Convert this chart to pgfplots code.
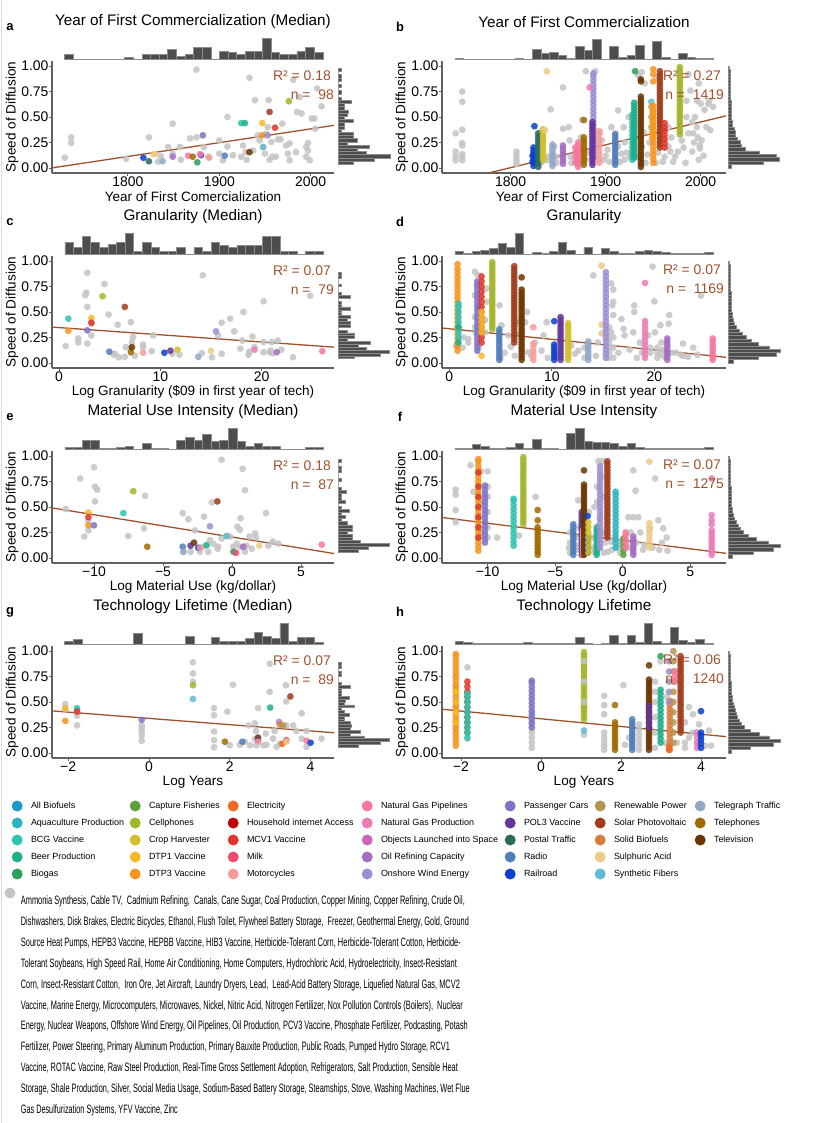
\documentclass[border=0pt]{standalone}
\usepackage{pgfplots}
\pgfplotsset{compat=1.18}
\usepackage{fontspec}
\setmainfont{Liberation Sans}
\usepackage{graphicx}
\definecolor{c01}{HTML}{1E9AC8}\definecolor{c02}{HTML}{2BB5C4}\definecolor{c03}{HTML}{2EC4B0}
\definecolor{c04}{HTML}{1DAF8A}\definecolor{c05}{HTML}{2E9E5A}\definecolor{c06}{HTML}{5BA23A}
\definecolor{c07}{HTML}{A3B52A}\definecolor{c08}{HTML}{D4BE2A}\definecolor{c09}{HTML}{F8B825}
\definecolor{c10}{HTML}{F7941D}\definecolor{c11}{HTML}{EE6A1E}\definecolor{c12}{HTML}{C00000}
\definecolor{c13}{HTML}{E0352B}\definecolor{c14}{HTML}{F04A6E}\definecolor{c15}{HTML}{F99A9A}
\definecolor{c16}{HTML}{F7779E}\definecolor{c17}{HTML}{EC7BB7}\definecolor{c18}{HTML}{CC66BB}
\definecolor{c19}{HTML}{A56CC1}\definecolor{c20}{HTML}{9B8FD3}\definecolor{c21}{HTML}{7B75C4}
\definecolor{c22}{HTML}{66349A}\definecolor{c23}{HTML}{2A6B60}\definecolor{c24}{HTML}{4F7EBB}
\definecolor{c25}{HTML}{0A3FD1}\definecolor{c26}{HTML}{B39350}\definecolor{c27}{HTML}{A03C1C}
\definecolor{c28}{HTML}{DD7B3A}\definecolor{c29}{HTML}{ECCB85}\definecolor{c30}{HTML}{5FBBD4}
\definecolor{c31}{HTML}{94A8C6}\definecolor{c32}{HTML}{A06A00}\definecolor{c33}{HTML}{6A3600}
\definecolor{cg}{HTML}{C4C4C4}\definecolor{fitc}{HTML}{A0522D}
\definecolor{hfill}{HTML}{4D4D4D}\definecolor{hdraw}{HTML}{8C8C8C}
\newcommand\tickf{\fontsize{14}{16}\selectfont}
\newcommand\labf{\fontsize{13.6}{16}\selectfont}
\newcommand\titf{\fontsize{15.3}{18}\selectfont}
\newcommand\legf{\fontsize{9}{10}\selectfont}
\newcommand\grf{\fontsize{12.2}{13}\selectfont}
\newcommand\rf{\fontsize{14}{16}\selectfont}
\newcommand{\pts}[2]{\addplot[only marks, mark=*, mark size=3.4bp, mark options={draw opacity=0, fill=#1, fill opacity=0.85}] coordinates {#2};}
\newcommand{\fit}[1]{\addplot[no marks, color=fitc, line width=1.3bp] coordinates {#1};}
\newcommand{\hx}[1]{\addplot[ybar interval, fill=hfill, draw=hdraw, line width=0.7bp] coordinates {#1};}
\newcommand{\hy}[1]{\addplot[xbar interval, fill=hfill, draw=hdraw, line width=0.7bp] coordinates {#1};}
\newcommand{\legitem}[2]{\addlegendimage{only marks, mark=*, mark size=5.5bp, mark options={draw opacity=0, fill=#1}}\addlegendentry{#2}}
\pgfplotsset{
 mainax/.style={scale only axis, height=112bp, ymin=-0.05, ymax=1.05, anchor=south west,
  axis lines*=left, axis line style={draw=black!62, line width=1.1bp, -},
  tick style={draw=black!62, line width=0.8bp}, tick align=outside, major tick length=2.6bp,
  ytick={0,0.25,0.5,0.75,1}, yticklabels={0.00,0.25,0.50,0.75,1.00},
  yticklabel style={font=\tickf, inner sep=0.8bp},
  xticklabel style={font=\tickf, inner sep=1.2bp},
  every axis y label/.style={at={(axis description cs:-0.141,0.5)}, rotate=90, anchor=center, font=\labf},
  every axis x label/.style={at={(axis description cs:0.5,-0.214)}, anchor=center, font=\labf},
  ylabel={Speed of Diffusion}},
 htop/.style={scale only axis, height=22bp, ymin=0, ymax=22, hide axis, clip=false, anchor=south west},
 hright/.style={scale only axis, width=52bp, height=112bp, xmin=0, xmax=52, ymin=-0.05, ymax=1.05, hide axis, clip=false, anchor=south west},
 legax/.style={hide axis, scale only axis, width=5bp, height=5bp, xmin=0, xmax=1, ymin=0, ymax=1, anchor=north west, legend cell align=left,
  legend style={at={(0,1)}, anchor=north west, draw=none, fill=none, inner sep=0pt, outer sep=0pt, font=\legf, row sep=4bp, column sep=7.3bp, nodes={inner sep=1bp, text height=8bp, text depth=3bp}}}
}
\begin{document}
\begin{tikzpicture}
\useasboundingbox (0,0) rectangle (829bp,-1123bp);
\fill[white] (0,0) rectangle (829bp,-1123bp);
\draw[black!15, line width=0.8bp] (1bp,0) -- (1bp,-1123bp);
% ================= panel a =================
\begin{axis}[mainax, at={(52bp,-173bp)}, width=282bp, xmin=1717, xmax=2025.5, xtick={1800,1900,2000}, xticklabels={1800,1900,2000}, xlabel={Year of First Comercialization}]
\pts{cg}{(1731,0.10)(1738,0.30)(1738,0.245)(1798,0.09)(1823,0.30)(1849,0.435)(1844,0.205)(1857,0.205)(1858,0.08)(1833,0.06)(1836,0.115)(1849,0.14)(1868,0.29)(1875,0.30)(1875,0.965)(1883,0.205)(1888,0.11)(1900,0.27)(1900,0.14)(1904,0.075)(1909,0.50)(1909,0.21)(1915,0.125)(1926,0.22)(1930,0.08)(1933,0.885)(1937,0.17)(1939,0.665)(1942,0.32)(1944,0.27)(1948,0.205)(1950,0.14)(1951,0.335)(1953,0.40)(1954,0.665)(1955,0.08)(1957,0.255)(1962,0.11)(1964,0.28)(1967,0.28)(1969,0.435)(1973,0.22)(1975,0.14)(1981,0.865)(1984,0.155)(1985,0.55)(1988,0.695)(1990,0.535)(1995,0.205)(1995,0.11)(1997,0.245)(1997,0.17)(2001,0.485)(2004,0.485)(2005,0.385)(2007,0.78)(2012,0.605)(1999,0.075)(1977,0.24)(1977,0.075)(1958,0.11)(1924,0.11)(1929,0.155)}
\pts{c25}{(1817,0.10)}\pts{c23}{(1823,0.065)}\pts{c29}{(1828,0.135)(1830,0.135)}\pts{c31}{(1838,0.065)}
\pts{c19}{(1849,0.11)}\pts{c16}{(1866,0.12)}\pts{c32}{(1871,0.11)}\pts{c22}{(1880,0.125)}\pts{c21}{(1882,0.32)}
\pts{c05}{(1876,0.055)}\pts{c17}{(1879,0.135)}\pts{c15}{(1889,0.10)}\pts{c24}{(1906,0.12)}\pts{c33}{(1933,0.155)}
\pts{c03}{(1924,0.44)}\pts{c04}{(1928,0.44)}\pts{c09}{(1947,0.44)}\pts{c10}{(1947,0.32)}\pts{c30}{(1948,0.205)}
\pts{c20}{(1953,0.32)}\pts{c27}{(1955,0.55)}\pts{c13}{(1961,0.395)}\pts{c07}{(1976,0.655)}
\fit{(1717,0.0)(2025.5,0.418)}
\end{axis}
\begin{axis}[htop, at={(52bp,-59.5bp)}, width=282bp, xmin=1717, xmax=2025.5]
\hx{(1730.7,5.3)(1740.1,0)(1749.5,0)(1759.0,0)(1768.4,0)(1777.8,0)(1787.2,0)(1796.6,2)(1806.1,0)(1815.5,5.3)(1824.9,5.3)(1834.3,5.3)(1843.7,10)(1853.2,3.3)(1862.6,5.3)(1872.0,12.3)(1881.4,12.3)(1890.8,0)(1900.3,7.7)(1909.7,6.7)(1919.1,5)(1928.5,8.3)(1937.9,8.3)(1947.4,20.7)(1956.8,6.7)(1966.2,5)(1975.6,5)(1985.0,8.3)(1994.5,12.3)(2003.9,6.7)(2013.3,0)}
\end{axis}
\begin{axis}[hright, at={(338bp,-173bp)}]
\hy{(15,0.036)(36,0.0674)(52,0.0988)(28,0.1302)(19,0.1616)(31,0.193)(9,0.2244)(19,0.2558)(15,0.2872)(15,0.3186)(3,0.35)(6,0.3814)(6,0.4128)(15,0.4442)(6,0.4756)(9,0.507)(10,0.5384)(6,0.5698)(6,0.6012)(13,0.6326)(3,0.664)(0,0.6954)(3,0.7268)(0,0.7582)(3,0.7896)(0,0.821)(3,0.8524)(3,0.8838)(0,0.9152)(3,0.9466)(0,0.978)}
\end{axis}
% ================= panel b =================
\begin{axis}[mainax, at={(442bp,-173bp)}, width=284bp, xmin=1727.7, xmax=2026.6, xtick={1800,1900,2000}, xticklabels={1800,1900,2000}, xlabel={Year of First Comercialization}]
\pts{cg}{(1742,0.34)(1742,0.16)(1742,0.11)(1742,0.075)(1749,0.75)(1749,0.65)(1749,0.375)(1749,0.245)(1749,0.22)(1749,0.135)(1749,0.11)(1749,0.075)(1806,0.16)(1806,0.13)(1806,0.10)(1806,0.07)(1806,0.04)(1830,0.30)(1832,0.05)(1832,0.10)(1832,0.15)(1832,0.20)(1832,0.25)(1838,0.075)(1840,0.11)(1842,0.575)(1846,0.21)(1848,0.11)(1848,0.05)(1855,0.79)(1855,0.385)(1861,0.40)(1862,0.27)(1863,0.11)(1864,0.05)(1875,0.47)(1874,0.30)(1879,0.95)(1879,0.08)(1882,0.15)(1889,0.95)(1894,0.35)(1896,0.27)(1898,0.08)(1900,0.12)(1902,0.18)(1906,0.40)(1910,0.34)(1913,0.565)(1913,0.21)(1917,0.14)(1919,0.40)(1920,0.25)(1920,0.08)(1924,0.50)(1926,0.11)(1934,0.91)(1938,0.94)(1941,0.83)(1938,0.21)(1934,0.11)(1940,0.35)(1942,0.05)(1954,0.89)(1966,0.40)(1966,0.21)(1968,0.16)(1962,0.11)(1969,0.30)(1955,0.15)(1953,0.05)(1973,0.11)(1976,0.16)(1980,0.27)(1985,0.66)(1987,0.92)(1985,0.50)(1987,0.34)(1991,0.16)(1989,0.76)(1991,0.45)(1984,0.05)(1996,0.66)(1998,0.83)(1999,0.22)(1999,0.19)(2000,0.63)(2008,0.63)(2004,0.57)(2006,0.40)(2009,0.66)(2013,0.60)(1998,0.08)(1997,0.30)(1994,0.50)(1992,0.34)(2001,0.27)(1996,0.40)(2003,0.12)(2010,0.37)(1993,0.25)(1982,0.20)(1904,0.06)(1915,0.06)(1922,0.15)(1944,0.13)(1946,0.25)(1960,0.06)(1971,0.06)}
\pts{c25}{(1824,0.02)(1824,0.05)(1824,0.08)(1824,0.11)(1824,0.14)(1824,0.17)(1824,0.20)(1823,0.06)(1823,0.12)(1825,0.41)}
\pts{c23}{(1829,0.01)(1829,0.04)(1829,0.07)(1829,0.10)(1829,0.13)(1829,0.16)(1829,0.19)(1829,0.22)(1829,0.25)(1829,0.28)(1829,0.31)(1829,0.34)}
\pts{c08}{(1834,0.08)(1834,0.11)(1834,0.14)(1834,0.17)(1834,0.20)(1834,0.23)(1834,0.26)(1834,0.29)(1834,0.32)(1834,0.35)(1834,0.38)}
\pts{c29}{(1838,0.95)(1836,0.37)}
\pts{c31}{(1844,0.02)(1844,0.05)(1844,0.08)(1844,0.11)(1844,0.14)(1844,0.17)(1844,0.20)(1844,0.23)}
\pts{c19}{(1855,0.04)(1855,0.07)(1855,0.10)(1855,0.13)(1855,0.16)(1855,0.19)(1855,0.22)}
\pts{c16}{(1871,0.01)(1871,0.04)(1871,0.07)(1871,0.10)(1871,0.13)(1871,0.16)(1871,0.19)(1871,0.22)(1871,0.25)(1868,0.05)(1868,0.10)(1868,0.15)(1868,0.20)}
\pts{c32}{(1877,0.03)(1877,0.06)(1877,0.09)(1877,0.12)(1877,0.15)(1877,0.18)(1877,0.21)(1877,0.24)(1877,0.27)(1877,0.30)(1877,0.47)}
\pts{c15}{(1893,0.05)(1893,0.09)(1893,0.13)(1893,0.17)(1893,0.21)(1893,0.25)(1893,0.29)(1893,0.33)(1893,0.36)}
\pts{c20}{(1887,0.10)(1887,0.14)(1887,0.18)(1887,0.22)(1887,0.26)(1887,0.30)(1887,0.34)(1887,0.38)(1887,0.42)(1887,0.46)(1887,0.50)(1887,0.54)(1887,0.58)(1887,0.62)(1887,0.66)(1887,0.70)(1887,0.74)(1887,0.78)(1887,0.82)(1887,0.86)(1887,0.90)(1887,0.93)}
\pts{c22}{(1886,0.03)(1886,0.06)(1886,0.09)(1886,0.12)(1886,0.15)(1886,0.18)(1886,0.21)(1886,0.24)(1886,0.27)(1886,0.30)(1886,0.33)(1886,0.36)(1886,0.39)(1886,0.42)(1886,0.45)}
\pts{c17}{(1883,0.79)}
\pts{c24}{(1910,0.03)(1910,0.06)(1910,0.09)(1910,0.12)(1910,0.15)(1910,0.18)(1910,0.21)(1910,0.24)(1910,0.27)(1910,0.30)(1910,0.33)}
\pts{c03}{(1928,0.08)(1928,0.12)(1928,0.16)(1928,0.20)(1928,0.24)(1928,0.28)(1928,0.32)(1928,0.36)(1928,0.40)(1928,0.44)(1928,0.48)(1928,0.52)}
\pts{c04}{(1930,0.10)(1930,0.13)(1930,0.16)(1930,0.19)(1930,0.22)(1930,0.25)(1930,0.28)(1930,0.31)(1930,0.34)(1930,0.37)(1930,0.40)(1930,0.43)(1930,0.46)(1930,0.49)(1930,0.52)(1930,0.55)(1930,0.58)(1930,0.61)(1930,0.64)}
\pts{c05}{(1931,0.95)}
\pts{c33}{(1937,0.01)(1937,0.04)(1937,0.07)(1937,0.10)(1937,0.13)(1937,0.16)(1937,0.19)(1937,0.22)(1937,0.25)(1937,0.28)(1937,0.31)(1937,0.34)(1937,0.37)(1937,0.40)(1937,0.43)(1937,0.46)(1937,0.49)(1937,0.52)(1937,0.55)(1937,0.58)(1937,0.61)(1937,0.64)(1937,0.67)(1937,0.70)(1937,0.85)(1937,0.87)}
\pts{c30}{(1948,0.40)(1948,0.50)(1948,0.60)(1948,0.65)}
\pts{c09}{(1949,0.30)(1949,0.35)(1949,0.40)(1949,0.45)(1949,0.50)(1949,0.55)(1949,0.60)}
\pts{c10}{(1950,0.05)(1950,0.09)(1950,0.13)(1950,0.17)(1950,0.21)(1950,0.25)(1950,0.29)(1950,0.33)(1950,0.37)(1950,0.41)(1950,0.45)(1950,0.49)(1950,0.53)(1950,0.57)(1950,0.61)(1950,0.85)(1950,0.92)(1950,0.97)}
\pts{c27}{(1957,0.20)(1957,0.23)(1957,0.26)(1957,0.29)(1957,0.32)(1957,0.35)(1957,0.38)(1957,0.41)(1957,0.44)(1957,0.47)(1957,0.50)(1957,0.53)(1957,0.56)(1957,0.59)(1957,0.62)(1957,0.65)(1957,0.68)(1957,0.71)(1957,0.74)(1957,0.77)(1957,0.80)(1957,0.83)(1957,0.86)(1957,0.89)(1957,0.92)(1957,0.95)}
\pts{c13}{(1962,0.20)(1962,0.24)(1962,0.28)(1962,0.32)(1962,0.36)(1962,0.40)(1962,0.44)}
\pts{c07}{(1978,0.33)(1978,0.36)(1978,0.39)(1978,0.42)(1978,0.45)(1978,0.48)(1978,0.51)(1978,0.54)(1978,0.57)(1978,0.60)(1978,0.63)(1978,0.66)(1978,0.69)(1978,0.72)(1978,0.75)(1978,0.78)(1978,0.81)(1978,0.84)(1978,0.87)(1978,0.90)(1978,0.93)(1978,0.96)(1978,0.99)}
\fit{(1776.5,-0.05)(2026.6,0.511)}
\end{axis}
\begin{axis}[htop, at={(442bp,-59.5bp)}, width=284bp, xmin=1727.7, xmax=2026.6]
\hx{(1741.4,1)(1750.45,0)(1759.5,0)(1768.55,0)(1777.6,0)(1786.65,0)(1795.7,0)(1804.75,1)(1813.8,0)(1822.85,10.3)(1831.9,6)(1840.95,7)(1850.0,3.7)(1859.05,1)(1868.1,13.3)(1877.15,9.3)(1886.2,20.3)(1895.25,0)(1904.3,12.7)(1913.35,2)(1922.4,4.3)(1931.45,13.7)(1940.5,0)(1949.55,18)(1958.6,2)(1967.65,0)(1976.7,6)(1985.75,2)(1994.8,1)(2003.85,0.7)(2012.9,0)}
\end{axis}
\begin{axis}[hright, at={(728bp,-173bp)}]
\hy{(3,0)(35,0.0333)(51,0.0667)(48,0.1)(31,0.1333)(17,0.1667)(13,0.2)(12,0.2333)(9,0.2667)(7,0.3)(7,0.3333)(6,0.3667)(4,0.4)(4,0.4333)(3,0.4667)(3,0.5)(3,0.5333)(3,0.5667)(3,0.6)(3,0.6333)(2,0.6667)(2,0.7)(2,0.7333)(2,0.7667)(2,0.8)(2,0.8333)(2,0.8667)(2,0.9)(2,0.9333)(1,0.9667)(0,1.0)}
\end{axis}
% ================= panel c =================
\begin{axis}[mainax, at={(52bp,-368bp)}, width=282bp, xmin=-0.69, xmax=27.15, xtick={0,10,20}, xticklabels={0,10,20}, xlabel={Log Granularity (\$09 in first year of tech)}]
\pts{cg}{(0.66,0.165)(1.9,0.20)(1.9,0.24)(2.8,0.19)(2.8,0.885)(2.6,0.665)(2.7,0.69)(2.8,0.55)(3.2,0.27)(3.2,0.385)(4.5,0.775)(4.9,0.475)(5.4,0.08)(5.9,0.055)(5.8,0.375)(6.5,0.06)(6.6,0.155)(7.1,0.40)(7.2,0.205)(7.3,0.255)(7.5,0.07)(8.3,0.18)(8.3,0.155)(9.15,0.115)(9.3,0.27)(11.2,0.09)(11.9,0.08)(14.1,0.095)(14.2,0.86)(15.1,0.055)(15.7,0.27)(16.06,0.09)(16.06,0.395)(16.9,0.435)(17.3,0.31)(18.1,0.22)(18.2,0.50)(17.9,0.14)(18.7,0.08)(18.8,0.11)(19.1,0.26)(19.3,0.155)(20.2,0.205)(20.2,0.605)(20.2,0.105)(20.8,0.105)(20.9,0.12)(21.0,0.205)(21.1,0.095)(21.6,0.22)(21.96,0.13)(23.1,0.055)(24.8,0.66)(7.0,0.14)(5.5,0.09)}
\pts{c03}{(0.92,0.435)}\pts{c10}{(0.92,0.315)}\pts{c09}{(3.2,0.44)}\pts{c13}{(3.2,0.395)}\pts{c21}{(2.8,0.32)}
\pts{c07}{(4.3,0.655)}\pts{c27}{(6.5,0.55)}\pts{c32}{(7.1,0.105)}\pts{c33}{(7.2,0.155)}\pts{c24}{(4.97,0.11)}
\pts{c15}{(8.3,0.10)}\pts{c25}{(10.4,0.10)}\pts{c22}{(11.0,0.12)}\pts{c08}{(11.7,0.13)}\pts{c29}{(15.0,0.12)}
\pts{c31}{(13.75,0.06)}\pts{c20}{(15.5,0.31)}\pts{c17}{(19.3,0.13)}\pts{c19}{(21.5,0.105)}\pts{c16}{(26.0,0.115)}
\fit{(-0.69,0.352)(27.15,0.155)}
\end{axis}
\begin{axis}[htop, at={(52bp,-254.5bp)}, width=282bp, xmin=-0.69, xmax=27.15]
\hx{(0.59,12.3)(1.439,6.7)(2.288,18)(3.137,12.3)(3.986,6.7)(4.835,10)(5.684,12.3)(6.533,21)(7.382,3.3)(8.231,12.3)(9.08,6.7)(9.929,3.3)(10.778,3.3)(11.627,6.7)(12.476,0)(13.325,6.7)(14.174,3.3)(15.023,12.3)(15.872,9.3)(16.721,6.7)(17.57,9.3)(18.419,9.3)(19.268,9.3)(20.117,18)(20.966,18)(21.815,3.3)(22.664,3.3)(23.513,0)(24.362,3.3)(25.211,3.3)(26.06,0)}
\end{axis}
\begin{axis}[hright, at={(338bp,-368bp)}]
\hy{(16,0.04)(42,0.0683)(51,0.0966)(28,0.1249)(20,0.1532)(32,0.1815)(9,0.2098)(16,0.2381)(16,0.2664)(9,0.2947)(0,0.323)(12,0.3513)(12,0.3796)(9,0.4079)(12,0.4362)(3,0.4645)(3,0.4928)(12,0.5211)(3,0.5494)(3,0.5777)(0,0.606)(12,0.6343)(3,0.6626)(0,0.6909)(0,0.7192)(3,0.7475)(0,0.7758)(0,0.8041)(3,0.8324)(3,0.8607)(0,0.889)}
\end{axis}
% ================= panel d =================
\begin{axis}[mainax, at={(442bp,-368bp)}, width=284bp, xmin=-0.71, xmax=27.0, xtick={0,10,20}, xticklabels={0,10,20}, xlabel={Log Granularity (\$09 in first year of tech)}]
\pts{cg}{(0.65,0.17)(1.85,0.235)(1.85,0.20)(2.5,0.895)(2.7,0.765)(2.5,0.665)(2.8,0.86)(3.64,0.73)(3.64,0.6)(4.9,0.565)(5.1,0.37)(5.76,0.27)(6.4,0.07)(6.7,0.4)(7.7,0.105)(8.0,0.07)(9.0,0.12)(9.2,0.27)(8.36,0.2)(9.5,0.40)(11.9,0.17)(12.26,0.09)(14.05,0.86)(15.8,0.78)(15.9,0.565)(16,0.47)(15.8,0.30)(16.8,0.43)(17,0.335)(17.1,0.27)(17.95,0.30)(18.05,0.565)(18.05,0.5)(18.6,0.2)(18.8,0.1)(19.4,0.27)(19.84,0.945)(20,0.605)(20.07,0.30)(20.6,0.37)(20.7,0.2)(20.9,0.13)(21.4,0.385)(21.46,0.47)(21.7,0.1)(22.8,0.19)(22.8,0.07)(24.55,0.66)(22.1,0.1)(22.6,0.08)(23.3,0.06)(15.6,0.05)(15.6,0.1)(15.6,0.15)(15.6,0.2)(15.6,0.25)(15.6,0.35)(16.0,0.05)(16.0,0.15)(16.0,0.25)(16.0,0.6)(16.0,0.72)(20.3,0.05)(20.3,0.1)(20.3,0.15)(21.0,0.06)(21.0,0.12)(20.6,0.08)(19.6,0.1)(19.6,0.15)(13.2,0.05)(13.2,0.15)(14.3,0.07)(14.5,0.2)(12.6,0.12)(10.5,0.07)(9.6,0.05)(2.5,0.35)(2.5,0.45)(2.8,0.55)(2.6,0.3)(1.3,0.15)(1.4,0.25)(5.0,0.05)(5.4,0.1)(6.0,0.16)(6.9,0.28)(7.4,0.4)(7.6,0.5)(3.5,0.3)(3.5,0.42)(2.9,0.15)(23.8,0.15)(24.2,0.08)(17.6,0.13)(18.3,0.05)(16.5,0.1)}
\pts{c10}{(0.81,0.12)(0.81,0.16)(0.81,0.20)(0.81,0.24)(0.81,0.28)(0.81,0.32)(0.81,0.36)(0.81,0.40)(0.81,0.44)(0.81,0.48)(0.81,0.52)(0.81,0.56)(0.81,0.60)(0.81,0.64)(0.81,0.68)(0.81,0.72)(0.81,0.76)(0.81,0.80)(0.81,0.84)(0.81,0.88)(0.81,0.92)(0.81,0.97)}
\pts{c03}{(0.9,0.25)(0.9,0.30)(0.9,0.35)(0.9,0.40)(0.9,0.45)(0.9,0.50)(0.9,0.55)(0.9,0.58)}
\pts{c04}{(0.9,0.20)(0.9,0.35)}
\pts{c21}{(2.73,0.12)(2.73,0.16)(2.73,0.20)(2.73,0.24)(2.73,0.28)(2.73,0.32)(2.73,0.36)(2.73,0.40)(2.73,0.44)(2.73,0.48)(2.73,0.52)(2.73,0.56)(2.73,0.60)(2.73,0.64)(2.73,0.68)(2.73,0.72)(2.73,0.76)(2.73,0.80)}
\pts{c13}{(3.15,0.20)(3.15,0.25)(3.15,0.30)(3.15,0.35)(3.15,0.40)(3.15,0.45)(3.15,0.50)(3.15,0.55)(3.15,0.60)(3.15,0.65)(3.15,0.70)(3.15,0.75)(3.15,0.80)(3.15,0.85)}
\pts{c09}{(3.15,0.07)(3.15,0.30)(3.15,0.35)(3.15,0.40)(3.15,0.45)(3.15,0.50)}
\pts{c07}{(4.2,0.33)(4.2,0.36)(4.2,0.39)(4.2,0.42)(4.2,0.45)(4.2,0.48)(4.2,0.51)(4.2,0.54)(4.2,0.57)(4.2,0.60)(4.2,0.63)(4.2,0.66)(4.2,0.69)(4.2,0.72)(4.2,0.75)(4.2,0.78)(4.2,0.81)(4.2,0.84)(4.2,0.87)(4.2,0.90)(4.2,0.93)(4.2,0.96)(4.2,0.99)}
\pts{c24}{(4.88,0.03)(4.88,0.06)(4.88,0.09)(4.88,0.12)(4.88,0.15)(4.88,0.18)(4.88,0.21)(4.88,0.24)(4.88,0.27)(4.88,0.30)(4.88,0.33)}
\pts{c27}{(6.34,0.20)(6.34,0.23)(6.34,0.26)(6.34,0.29)(6.34,0.32)(6.34,0.35)(6.34,0.38)(6.34,0.41)(6.34,0.44)(6.34,0.47)(6.34,0.50)(6.34,0.53)(6.34,0.56)(6.34,0.59)(6.34,0.62)(6.34,0.65)(6.34,0.68)(6.34,0.71)(6.34,0.74)(6.34,0.77)(6.34,0.80)(6.34,0.83)(6.34,0.86)(6.34,0.89)(6.34,0.92)(6.34,0.95)}
\pts{c33}{(7.06,0.03)(7.06,0.06)(7.06,0.09)(7.06,0.12)(7.06,0.15)(7.06,0.18)(7.06,0.21)(7.06,0.24)(7.06,0.27)(7.06,0.30)(7.06,0.33)(7.06,0.36)(7.06,0.39)(7.06,0.42)(7.06,0.45)(7.06,0.48)(7.06,0.51)(7.06,0.54)(7.06,0.57)(7.06,0.60)(7.06,0.63)(7.06,0.66)(7.06,0.69)(7.06,0.72)(7.06,0.84)}
\pts{c15}{(8.2,0.03)(8.2,0.07)(8.2,0.11)(8.2,0.15)(8.2,0.19)(8.2,0.35)}
\pts{c25}{(10.24,0.03)(10.24,0.06)(10.24,0.09)(10.24,0.12)(10.24,0.15)(10.24,0.18)(10.24,0.41)}
\pts{c22}{(10.86,0.03)(10.86,0.06)(10.86,0.09)(10.86,0.12)(10.86,0.15)(10.86,0.18)(10.86,0.21)(10.86,0.24)(10.86,0.27)(10.86,0.30)(10.86,0.33)(10.86,0.36)(10.86,0.39)(10.86,0.42)(10.86,0.45)}
\pts{c08}{(11.6,0.03)(11.6,0.06)(11.6,0.09)(11.6,0.12)(11.6,0.15)(11.6,0.18)(11.6,0.21)(11.6,0.24)(11.6,0.27)(11.6,0.30)(11.6,0.33)(11.6,0.36)(11.6,0.39)}
\pts{c31}{(13.56,0.03)(13.56,0.06)(13.56,0.09)(13.56,0.12)(13.56,0.15)(13.56,0.18)(13.56,0.21)}
\pts{c29}{(14.86,0.955)(14.86,0.375)(14.86,0.29)}
\pts{c20}{(15.28,0.05)(15.28,0.09)(15.28,0.13)(15.28,0.17)(15.28,0.21)(15.28,0.25)(15.28,0.29)(15.28,0.33)(15.28,0.37)(15.28,0.41)(15.28,0.45)(15.28,0.49)(15.28,0.53)(15.28,0.57)(15.28,0.61)(15.28,0.65)(15.28,0.69)(15.28,0.73)(15.28,0.77)(15.28,0.81)(15.28,0.85)(15.28,0.89)}
\pts{c17}{(19.1,0.05)(19.1,0.09)(19.1,0.13)(19.1,0.17)(19.1,0.21)(19.1,0.25)(19.1,0.29)(19.1,0.33)(19.1,0.37)(19.1,0.41)(19.1,0.785)}
\pts{c19}{(21.27,0.03)(21.27,0.06)(21.27,0.09)(21.27,0.12)(21.27,0.15)(21.27,0.18)(21.27,0.21)(21.27,0.24)}
\pts{c16}{(25.7,0.03)(25.7,0.06)(25.7,0.09)(25.7,0.12)(25.7,0.15)(25.7,0.18)(25.7,0.21)(25.7,0.24)}
\fit{(-0.71,0.343)(27.0,0.055)}
\end{axis}
\begin{axis}[htop, at={(442bp,-254.5bp)}, width=284bp, xmin=-0.71, xmax=27.0]
\hx{(0.55,3.3)(1.389,0.7)(2.228,3.3)(3.067,4)(3.906,6)(4.745,11)(5.584,6.7)(6.423,21)(7.262,0)(8.101,2.3)(8.94,0.7)(9.779,3.3)(10.618,11.7)(11.457,4)(12.296,0)(13.135,7.3)(13.974,0)(14.813,6)(15.652,2.7)(16.491,0.7)(17.33,0.7)(18.169,2.7)(19.008,4)(19.847,3.3)(20.686,2.3)(21.525,1.3)(22.364,0.7)(23.203,0.7)(24.042,0.7)(24.881,1.7)(25.72,0)}
\end{axis}
\begin{axis}[hright, at={(728bp,-368bp)}]
\hy{(5,0)(30,0.0333)(48,0.0667)(52,0.1)(41,0.1333)(30,0.1667)(23,0.2)(18,0.2333)(14,0.2667)(11,0.3)(8,0.3333)(6,0.3667)(5,0.4)(4,0.4333)(4,0.4667)(3,0.5)(3,0.5333)(3,0.5667)(3,0.6)(3,0.6333)(3,0.6667)(2,0.7)(2,0.7333)(2,0.7667)(2,0.8)(2,0.8333)(2,0.8667)(2,0.9)(2,0.9333)(1,0.9667)(0,1.0)}
\end{axis}
% ================= panel e =================
\begin{axis}[mainax, at={(52bp,-563bp)}, width=282bp, xmin=-13.04, xmax=7.39, xtick={-10,-5,0,5}, xticklabels={−10,−5,0,5}, xlabel={Log Material Use (kg/dollar)}]
\pts{cg}{(-12.05,0.48)(-11.0,0.78)(-10.7,0.21)(-10.0,0.89)(-10.4,0.27)(-10.4,0.36)(-9.93,0.70)(-9.76,0.67)(-9.93,0.555)(-7.51,0.215)(-6.3,0.61)(-6.38,0.29)(-3.57,0.44)(-3.16,0.38)(-3.5,0.06)(-2.68,0.27)(-3.0,0.06)(-2.32,0.06)(-2.03,0.405)(-1.6,0.175)(-1.47,0.545)(-1.35,0.14)(-1.0,0.11)(-0.75,0.965)(-0.75,0.19)(-0.39,0.215)(-0.14,0.21)(0.1,0.11)(0.39,0.305)(0.58,0.275)(0.63,0.39)(0.77,0.875)(0.94,0.665)(0.94,0.06)(1.06,0.12)(1.26,0.21)(1.43,0.09)(1.67,0.24)(1.74,0.2)(2.46,0.44)(2.63,0.12)(2.95,0.16)(3.36,0.14)(-1.72,0.06)(-2.08,0.11)(0.34,0.14)(0.58,0.11)(-1.04,0.09)}
\pts{c09}{(-10.4,0.445)}\pts{c13}{(-10.4,0.40)}\pts{c10}{(-10.4,0.32)}\pts{c21}{(-10.0,0.32)}\pts{c07}{(-7.15,0.655)}
\pts{c03}{(-7.87,0.44)}\pts{c32}{(-6.14,0.11)}\pts{c24}{(-3.57,0.11)}\pts{c31}{(-3.53,0.06)}\pts{c22}{(-3.0,0.12)}
\pts{c33}{(-2.75,0.15)}\pts{c25}{(-2.44,0.10)}\pts{c15}{(-2.32,0.10)}\pts{c20}{(-1.6,0.31)}\pts{c04}{(-1.84,0.125)}
\pts{c27}{(-1.06,0.555)}\pts{c05}{(0.1,0.06)}\pts{c14}{(0.29,0.05)}\pts{c29}{(1.98,0.12)}\pts{c19}{(0.82,0.11)}
\pts{c30}{(-0.39,0.215)}\pts{c16}{(6.5,0.13)}
\fit{(-13.04,0.491)(7.39,0.043)}
\end{axis}
\begin{axis}[htop, at={(52bp,-449.5bp)}, width=282bp, xmin=-13.04, xmax=7.39]
\hx{(-12.1,2.3)(-11.477,2.3)(-10.854,9.3)(-10.231,9.3)(-9.608,0.7)(-8.985,0.7)(-8.362,2.3)(-7.739,3.3)(-7.116,0)(-6.493,5.7)(-5.87,0.7)(-5.247,0.7)(-4.624,0)(-4.001,9.3)(-3.378,11.7)(-2.755,9.3)(-2.132,15.3)(-1.509,8.3)(-0.886,9.3)(-0.263,21)(0.36,8.3)(0.983,3.3)(1.606,5.7)(2.229,3.3)(2.852,3.3)(3.475,0)(4.098,0)(4.721,0)(5.344,2.3)(5.967,2.3)(6.59,0)}
\end{axis}
\begin{axis}[hright, at={(338bp,-563bp)}]
\hy{(20,0.05)(30,0.0805)(51,0.111)(22,0.1415)(14,0.172)(14,0.2025)(9,0.233)(14,0.2635)(14,0.294)(9,0.3245)(3,0.355)(7,0.3855)(3,0.416)(11,0.4465)(3,0.477)(0,0.5075)(7,0.538)(3,0.5685)(3,0.599)(8,0.6295)(3,0.66)(0,0.6905)(0,0.721)(3,0.7515)(0,0.782)(0,0.8125)(3,0.843)(3,0.8735)(0,0.904)(3,0.9345)(0,0.965)}
\end{axis}
% ================= panel f =================
\begin{axis}[mainax, at={(442bp,-563bp)}, width=284bp, xmin=-13.38, xmax=7.64, xtick={-10,-5,0,5}, xticklabels={−10,−5,0,5}, xlabel={Log Material Use (kg/dollar)}]
\pts{cg}{(-12.37,0.35)(-12.37,0.47)(-12.37,0.62)(-12.37,0.67)(-11.26,0.91)(-11.06,0.65)(-10.0,0.2)(-10.0,0.3)(-10.0,0.45)(-10.0,0.6)(-10.0,0.7)(-10.0,0.85)(-10.5,0.25)(-10.5,0.55)(-10.5,0.85)(-9.3,0.2)(-7.68,0.22)(-6.45,0.6)(-3.9,0.05)(-3.9,0.15)(-3.9,0.25)(-3.5,0.08)(-3.5,0.2)(-3.3,0.565)(-3.3,0.12)(-3.2,0.3)(-1.8,0.95)(-1.5,0.95)(-1.6,0.8)(-1.9,0.7)(-1.4,0.6)(-1.9,0.55)(-1.7,0.4)(-1.5,0.25)(-1.3,0.15)(-1.8,0.1)(-1.4,0.05)(-1.1,0.06)(-0.8,0.08)(-0.9,0.16)(-0.4,0.1)(-0.6,0.2)(0.41,0.40)(0.78,0.40)(1.15,0.40)(0.78,0.86)(0.95,0.66)(2.39,0.78)(2.0,0.29)(2.63,0.37)(3.0,0.29)(3.25,0.2)(1.5,0.08)(1.0,0.15)(1.3,0.25)(2.2,0.1)(2.7,0.08)(0.5,0.1)(1.6,0.13)(0.6,0.25)(2.9,0.15)(3.3,0.07)(-2.2,0.1)(-2.3,0.2)(-2.1,0.06)(-4.0,0.1)(-0.2,0.05)(-0.2,0.15)(-2.5,0.45)(-2.1,0.5)}
\pts{c10}{(-10.69,0.07)(-10.69,0.11)(-10.69,0.15)(-10.69,0.19)(-10.69,0.23)(-10.69,0.27)(-10.69,0.31)(-10.69,0.35)(-10.69,0.39)(-10.69,0.43)(-10.69,0.47)(-10.69,0.51)(-10.69,0.55)(-10.69,0.59)(-10.69,0.63)(-10.69,0.67)(-10.69,0.71)(-10.69,0.75)(-10.69,0.79)(-10.69,0.83)(-10.69,0.87)(-10.69,0.91)(-10.69,0.95)(-10.69,0.97)}
\pts{c13}{(-10.69,0.2)(-10.69,0.3)(-10.69,0.4)(-10.69,0.5)(-10.69,0.6)(-10.69,0.7)(-10.69,0.84)}
\pts{c21}{(-10.2,0.15)(-10.2,0.19)(-10.2,0.23)(-10.2,0.27)(-10.2,0.31)(-10.2,0.35)(-10.2,0.39)(-10.2,0.43)(-10.2,0.47)(-10.2,0.51)(-10.2,0.55)(-10.2,0.59)(-10.2,0.63)(-10.2,0.67)(-10.2,0.71)}
\pts{c03}{(-8.08,0.12)(-8.08,0.16)(-8.08,0.20)(-8.08,0.24)(-8.08,0.28)(-8.08,0.32)(-8.08,0.36)(-8.08,0.40)(-8.08,0.44)(-8.08,0.48)(-8.08,0.52)(-8.08,0.56)(-8.08,0.58)}
\pts{c07}{(-7.36,0.33)(-7.36,0.36)(-7.36,0.39)(-7.36,0.42)(-7.36,0.45)(-7.36,0.48)(-7.36,0.51)(-7.36,0.54)(-7.36,0.57)(-7.36,0.60)(-7.36,0.63)(-7.36,0.66)(-7.36,0.69)(-7.36,0.72)(-7.36,0.75)(-7.36,0.78)(-7.36,0.81)(-7.36,0.84)(-7.36,0.87)(-7.36,0.90)(-7.36,0.93)(-7.36,0.96)(-7.36,0.99)}
\pts{c32}{(-6.3,0.03)(-6.3,0.06)(-6.3,0.09)(-6.3,0.12)(-6.3,0.15)(-6.3,0.18)(-6.3,0.21)(-6.3,0.24)(-6.3,0.27)(-6.3,0.30)(-6.3,0.37)(-6.3,0.47)}
\pts{c24}{(-3.66,0.03)(-3.66,0.06)(-3.66,0.09)(-3.66,0.12)(-3.66,0.15)(-3.66,0.18)(-3.66,0.21)(-3.66,0.24)(-3.66,0.27)(-3.66,0.30)(-3.66,0.33)}
\pts{c22}{(-3.04,0.03)(-3.04,0.06)(-3.04,0.09)(-3.04,0.12)(-3.04,0.15)(-3.04,0.18)(-3.04,0.21)(-3.04,0.24)(-3.04,0.27)(-3.04,0.30)(-3.04,0.33)(-3.04,0.36)(-3.04,0.39)(-3.04,0.42)(-3.04,0.45)}
\pts{c15}{(-2.95,0.03)(-2.95,0.06)(-2.95,0.09)(-2.95,0.12)(-2.95,0.15)(-2.95,0.18)(-2.95,0.21)(-2.95,0.24)(-2.95,0.27)}
\pts{c33}{(-2.87,0.03)(-2.87,0.06)(-2.87,0.09)(-2.87,0.12)(-2.87,0.15)(-2.87,0.18)(-2.87,0.21)(-2.87,0.24)(-2.87,0.27)(-2.87,0.30)(-2.87,0.33)(-2.87,0.36)(-2.87,0.39)(-2.87,0.42)(-2.87,0.45)(-2.87,0.48)(-2.87,0.51)(-2.87,0.54)(-2.87,0.57)(-2.87,0.60)(-2.87,0.63)(-2.87,0.66)(-2.87,0.69)(-2.87,0.72)(-2.87,0.86)}
\pts{c25}{(-2.6,0.05)(-2.6,0.09)(-2.6,0.13)(-2.6,0.17)(-2.6,0.20)(-2.6,0.41)}
\pts{c08}{(-2.55,0.05)(-2.55,0.10)(-2.55,0.15)(-2.55,0.20)(-2.55,0.25)(-2.55,0.30)(-2.55,0.35)}
\pts{c04}{(-1.93,0.03)(-1.93,0.06)(-1.93,0.09)(-1.93,0.12)(-1.93,0.15)(-1.93,0.18)(-1.93,0.21)(-1.93,0.24)(-1.93,0.27)(-1.93,0.30)}
\pts{c20}{(-1.68,0.10)(-1.68,0.14)(-1.68,0.18)(-1.68,0.22)(-1.68,0.26)(-1.68,0.30)(-1.68,0.34)(-1.68,0.38)(-1.68,0.42)(-1.68,0.46)(-1.68,0.50)(-1.68,0.54)(-1.68,0.58)(-1.68,0.62)(-1.68,0.66)(-1.68,0.70)(-1.68,0.74)(-1.68,0.78)(-1.68,0.82)(-1.68,0.86)(-1.68,0.90)}
\pts{c27}{(-1.14,0.20)(-1.14,0.23)(-1.14,0.26)(-1.14,0.29)(-1.14,0.32)(-1.14,0.35)(-1.14,0.38)(-1.14,0.41)(-1.14,0.44)(-1.14,0.47)(-1.14,0.50)(-1.14,0.53)(-1.14,0.56)(-1.14,0.59)(-1.14,0.62)(-1.14,0.65)(-1.14,0.68)(-1.14,0.71)(-1.14,0.74)(-1.14,0.77)(-1.14,0.80)(-1.14,0.83)(-1.14,0.86)(-1.14,0.89)(-1.14,0.92)(-1.14,0.95)}
\pts{c02}{(-0.53,0.10)(-0.53,0.14)(-0.53,0.18)(-0.53,0.22)(-0.53,0.26)(-0.53,0.30)(-0.53,0.34)(-0.53,0.38)(-0.53,0.42)(-0.53,0.46)(-0.53,0.50)(-0.53,0.54)(-0.53,0.58)(-0.53,0.62)(-0.53,0.65)}
\pts{c06}{(0.04,0.03)(0.04,0.07)(0.04,0.11)(0.04,0.15)(0.04,0.19)}
\pts{c16}{(0.21,0.10)(0.21,0.14)(0.21,0.18)(0.21,0.22)(0.21,0.25)}
\pts{c19}{(0.78,0.03)(0.78,0.06)(0.78,0.09)(0.78,0.12)(0.78,0.15)(0.78,0.18)(0.78,0.21)}
\pts{c29}{(1.97,0.10)(1.97,0.14)(1.97,0.18)(1.97,0.22)(1.97,0.26)(1.97,0.30)(1.97,0.34)(1.97,0.945)}
\pts{c17}{(6.58,0.03)(6.58,0.06)(6.58,0.09)(6.58,0.12)(6.58,0.15)(6.58,0.18)(6.58,0.21)(6.58,0.24)(6.58,0.27)(6.58,0.33)(6.58,0.37)(6.58,0.42)(6.58,0.78)}
\fit{(-13.38,0.397)(7.64,0.045)}
\end{axis}
\begin{axis}[htop, at={(442bp,-449.5bp)}, width=284bp, xmin=-13.38, xmax=7.64]
\hx{(-12.42,0.7)(-11.783,0.7)(-11.147,5)(-10.510,3.3)(-9.874,0.7)(-9.237,0.7)(-8.600,2.3)(-7.964,5.7)(-7.327,0.7)(-6.691,10)(-6.054,0.7)(-5.417,0.7)(-4.781,0)(-4.144,15.7)(-3.508,21)(-2.871,7.7)(-2.234,6.7)(-1.598,7.3)(-0.961,5.7)(-0.325,3.3)(0.312,5.7)(0.949,1.7)(1.585,1.3)(2.222,1.3)(2.858,1.3)(3.495,1)(4.132,0.7)(4.768,0.7)(5.405,0.7)(6.041,2.3)(6.678,0)}
\end{axis}
\begin{axis}[hright, at={(728bp,-563bp)}]
\hy{(4,0)(25,0.0333)(45,0.0667)(52,0.1)(40,0.1333)(28,0.1667)(20,0.2)(15,0.2333)(12,0.2667)(10,0.3)(8,0.3333)(6,0.3667)(5,0.4)(4,0.4333)(4,0.4667)(3,0.5)(3,0.5333)(3,0.5667)(3,0.6)(3,0.6333)(3,0.6667)(2,0.7)(2,0.7333)(2,0.7667)(2,0.8)(2,0.8333)(2,0.8667)(2,0.9)(2,0.9333)(1,0.9667)(0,1.0)}
\end{axis}
% ================= panel g =================
\begin{axis}[mainax, at={(52bp,-758bp)}, width=282bp, xmin=-2.40, xmax=4.58, xtick={-2,0,2,4}, xticklabels={−2,0,2,4}, xlabel={Log Years}]
\pts{cg}{(-2.07,0.48)(-2.07,0.43)(-1.78,0.42)(-1.78,0.365)(-1.78,0.27)(-0.18,0.24)(-0.18,0.21)(-0.18,0.17)(-0.18,0.12)(-0.18,0.27)(1.09,0.89)(1.09,0.78)(1.09,0.70)(1.61,0.44)(1.61,0.37)(1.61,0.21)(1.61,0.125)(1.61,0.055)(1.94,0.405)(2.0,0.075)(2.08,0.67)(2.25,0.08)(2.46,0.27)(2.5,0.075)(2.66,0.075)(2.65,0.215)(2.62,0.135)(2.7,0.44)(2.89,0.19)(2.91,0.08)(2.99,0.60)(2.99,0.875)(3.07,0.14)(3.11,0.215)(3.24,0.09)(3.39,0.665)(3.4,0.505)(3.4,0.27)(3.57,0.27)(3.65,0.215)(3.78,0.39)(3.78,0.14)(3.9,0.215)(3.9,0.06)(4.27,0.14)(3.16,0.06)(2.83,0.075)(2.37,0.11)(2.62,0.29)}
\pts{c09}{(-2.07,0.44)}\pts{c10}{(-2.07,0.315)}\pts{c03}{(-1.78,0.44)}\pts{c13}{(-1.78,0.405)}\pts{c21}{(-0.18,0.325)}
\pts{c07}{(1.09,0.665)}\pts{c30}{(1.09,0.53)}\pts{c32}{(1.88,0.11)}\pts{c24}{(2.31,0.11)}\pts{c04}{(3.0,0.445)}
\pts{c27}{(3.5,0.555)}\pts{c20}{(3.22,0.305)}\pts{c28}{(3.24,0.28)}\pts{c26}{(3.32,0.27)}\pts{c33}{(2.7,0.15)}
\pts{c22}{(2.7,0.125)}\pts{c15}{(2.7,0.11)}\pts{c11}{(3.3,0.09)}\pts{c16}{(3.9,0.12)}\pts{c14}{(3.4,0.125)}
\pts{c25}{(4.0,0.10)}\pts{c29}{(3.4,0.11)}
\fit{(-2.40,0.413)(4.58,0.198)}
\end{axis}
\begin{axis}[htop, at={(52bp,-644.5bp)}, width=282bp, xmin=-2.40, xmax=4.58]
\hx{(-2.083,3.3)(-1.870,5)(-1.657,0)(-1.444,0)(-1.231,0)(-1.018,0)(-0.805,0)(-0.592,0)(-0.379,10.7)(-0.166,0)(0.047,0)(0.26,0)(0.473,0)(0.686,0)(0.899,8.3)(1.112,0)(1.325,0)(1.538,6.7)(1.751,2.7)(1.964,2.7)(2.177,2.7)(2.39,5.7)(2.603,12.3)(2.816,8.3)(3.029,5.7)(3.242,20.7)(3.455,2.7)(3.668,6.7)(3.881,7.3)(4.094,1.7)(4.307,0)}
\end{axis}
\begin{axis}[hright, at={(338bp,-758bp)}]
\hy{(20,0.055)(42,0.0828)(51,0.1106)(26,0.1384)(12,0.1662)(22,0.194)(12,0.2218)(13,0.2496)(12,0.2774)(6,0.3052)(6,0.333)(11,0.3608)(6,0.3886)(3,0.4164)(16,0.4442)(6,0.472)(7,0.4998)(11,0.5276)(3,0.5554)(3,0.5832)(3,0.611)(12,0.6388)(3,0.6666)(0,0.6944)(0,0.7222)(3,0.75)(3,0.7778)(0,0.8056)(3,0.8334)(3,0.8612)(0,0.889)}
\end{axis}
% ================= panel h =================
\begin{axis}[mainax, at={(442bp,-758bp)}, width=284bp, xmin=-2.475, xmax=4.625, xtick={-2,0,2,4}, xticklabels={−2,0,2,4}, xlabel={Log Years}]
\pts{cg}{(-2.13,0.25)(-2.13,0.45)(-2.13,0.65)(-2.13,0.75)(-1.84,0.14)(-1.84,0.3)(-1.84,0.5)(-1.84,0.84)(-0.23,0.05)(-0.23,0.1)(-0.23,0.15)(-0.23,0.2)(-0.23,0.25)(-0.23,0.3)(-0.23,0.35)(-0.23,0.4)(1.58,0.03)(1.58,0.07)(1.58,0.11)(1.58,0.15)(1.58,0.2)(1.58,0.38)(1.58,0.47)(1.58,0.56)(2.06,0.665)(2.45,0.03)(2.45,0.08)(2.45,0.13)(2.45,0.18)(2.45,0.23)(2.45,0.28)(2.85,0.05)(2.85,0.2)(2.85,0.35)(2.85,0.5)(2.85,0.6)(2.85,0.7)(2.99,0.9)(3.6,0.05)(3.6,0.3)(3.7,0.15)(3.8,0.38)(3.8,0.2)(3.9,0.1)(3.95,0.28)(4.1,0.07)(4.2,0.22)(4.25,0.07)(3.7,0.45)(4.0,0.15)(3.1,0.1)(3.15,0.55)(3.4,0.1)(3.6,0.1)(2.1,0.08)(2.2,0.15)}
\pts{c10}{(-2.13,0.07)(-2.13,0.11)(-2.13,0.15)(-2.13,0.19)(-2.13,0.23)(-2.13,0.27)(-2.13,0.31)(-2.13,0.35)(-2.13,0.39)(-2.13,0.43)(-2.13,0.47)(-2.13,0.51)(-2.13,0.55)(-2.13,0.59)(-2.13,0.63)(-2.13,0.67)(-2.13,0.71)(-2.13,0.75)(-2.13,0.79)(-2.13,0.83)(-2.13,0.87)(-2.13,0.91)(-2.13,0.95)(-2.13,0.97)}
\pts{c09}{(-2.13,0.3)(-2.13,0.4)(-2.13,0.5)(-2.13,0.6)}
\pts{c13}{(-1.84,0.20)(-1.84,0.25)(-1.84,0.30)(-1.84,0.35)(-1.84,0.40)(-1.84,0.45)(-1.84,0.50)(-1.84,0.55)(-1.84,0.60)(-1.84,0.65)(-1.84,0.70)}
\pts{c03}{(-1.84,0.15)(-1.84,0.20)(-1.84,0.25)(-1.84,0.30)(-1.84,0.35)(-1.84,0.40)(-1.84,0.45)(-1.84,0.50)(-1.84,0.55)(-1.84,0.58)}
\pts{c21}{(-0.23,0.25)(-0.23,0.29)(-0.23,0.33)(-0.23,0.37)(-0.23,0.41)(-0.23,0.45)(-0.23,0.49)(-0.23,0.53)(-0.23,0.57)(-0.23,0.61)(-0.23,0.65)(-0.23,0.69)(-0.23,0.71)}
\pts{c07}{(1.075,0.33)(1.075,0.36)(1.075,0.39)(1.075,0.42)(1.075,0.45)(1.075,0.48)(1.075,0.51)(1.075,0.54)(1.075,0.57)(1.075,0.60)(1.075,0.63)(1.075,0.66)(1.075,0.69)(1.075,0.72)(1.075,0.75)(1.075,0.78)(1.075,0.81)(1.075,0.84)(1.075,0.87)(1.075,0.90)(1.075,0.93)(1.075,0.96)(1.075,0.99)}
\pts{cg}{(1.075,0.18)(1.075,0.5)(1.075,0.7)(1.075,0.9)}
\pts{c30}{(1.075,0.22)}
\pts{c32}{(1.85,0.03)(1.85,0.06)(1.85,0.09)(1.85,0.12)(1.85,0.15)(1.85,0.18)(1.85,0.21)(1.85,0.24)(1.85,0.27)(1.85,0.30)(1.85,0.47)}
\pts{c24}{(2.28,0.03)(2.28,0.06)(2.28,0.09)(2.28,0.12)(2.28,0.15)(2.28,0.18)(2.28,0.21)(2.28,0.24)(2.28,0.27)(2.28,0.30)(2.28,0.33)}
\pts{c33}{(2.7,0.03)(2.7,0.06)(2.7,0.09)(2.7,0.12)(2.7,0.15)(2.7,0.18)(2.7,0.21)(2.7,0.24)(2.7,0.27)(2.7,0.30)(2.7,0.33)(2.7,0.36)(2.7,0.39)(2.7,0.42)(2.7,0.45)(2.7,0.48)(2.7,0.51)(2.7,0.54)(2.7,0.57)(2.7,0.60)(2.7,0.63)(2.7,0.66)(2.7,0.69)(2.7,0.72)(2.7,0.86)}
\pts{c22}{(2.7,0.25)(2.7,0.30)(2.7,0.35)(2.7,0.40)(2.7,0.46)}
\pts{c04}{(2.99,0.10)(2.99,0.14)(2.99,0.18)(2.99,0.22)(2.99,0.26)(2.99,0.30)(2.99,0.34)(2.99,0.38)(2.99,0.42)(2.99,0.46)(2.99,0.50)(2.99,0.54)(2.99,0.58)(2.99,0.62)}
\pts{c05}{(2.99,0.95)}
\pts{c28}{(3.22,0.03)(3.22,0.07)(3.22,0.11)(3.22,0.15)(3.22,0.19)(3.22,0.23)(3.22,0.27)(3.22,0.31)(3.22,0.35)(3.22,0.39)(3.22,0.43)(3.22,0.47)(3.22,0.51)}
\pts{c11}{(3.2,0.03)(3.2,0.06)}
\pts{c20}{(3.2,0.5)(3.2,0.6)(3.2,0.7)(3.2,0.8)(3.2,0.9)}
\pts{c26}{(3.31,0.1)(3.31,0.2)(3.31,0.3)(3.31,0.4)(3.31,0.5)(3.31,0.6)(3.31,0.7)(3.31,0.8)(3.31,0.9)(3.31,1.0)}
\pts{c16}{(3.35,0.7)(3.35,0.75)(3.35,0.8)}
\pts{c27}{(3.49,0.20)(3.49,0.23)(3.49,0.26)(3.49,0.29)(3.49,0.32)(3.49,0.35)(3.49,0.38)(3.49,0.41)(3.49,0.44)(3.49,0.47)(3.49,0.50)(3.49,0.53)(3.49,0.56)(3.49,0.59)(3.49,0.62)(3.49,0.65)(3.49,0.68)(3.49,0.71)(3.49,0.74)(3.49,0.77)(3.49,0.80)(3.49,0.83)(3.49,0.86)(3.49,0.89)(3.49,0.92)(3.49,0.95)}
\pts{c17}{(3.9,0.05)(3.9,0.10)(3.9,0.15)(3.9,0.20)}
\pts{c25}{(4.0,0.05)(4.0,0.09)(4.0,0.13)(4.0,0.17)(4.0,0.20)(4.0,0.41)}
\fit{(-2.475,0.429)(4.625,0.160)}
\end{axis}
\begin{axis}[htop, at={(442bp,-644.5bp)}, width=284bp, xmin=-2.475, xmax=4.625]
\hx{(-2.15,2.7)(-1.935,2.3)(-1.72,0.7)(-1.505,0.7)(-1.29,0.7)(-1.075,0.7)(-0.86,0.7)(-0.645,0.7)(-0.43,2.3)(-0.215,0.7)(0.0,0.7)(0.215,0.7)(0.43,0.7)(0.645,0.7)(0.86,6.7)(1.075,0.7)(1.29,0)(1.505,0.7)(1.72,9)(1.935,0.7)(2.15,9)(2.365,1.7)(2.58,21)(2.795,3.3)(3.01,0.7)(3.225,16.7)(3.44,4)(3.655,2.3)(3.87,5)(4.085,0.7)(4.3,0)}
\end{axis}
\begin{axis}[hright, at={(728bp,-758bp)}]
\hy{(3,0)(22,0.0333)(45,0.0667)(52,0.1)(41,0.1333)(31,0.1667)(22,0.2)(16,0.2333)(13,0.2667)(11,0.3)(9,0.3333)(8,0.3667)(7,0.4)(6,0.4333)(5,0.4667)(4,0.5)(4,0.5333)(3,0.5667)(3,0.6)(3,0.6333)(3,0.6667)(2,0.7)(2,0.7333)(2,0.7667)(2,0.8)(2,0.8333)(2,0.8667)(2,0.9)(2,0.9333)(1,0.9667)(0,1.0)}
\end{axis}
% ================= titles, labels, stats =================
\node[font=\titf] at (193bp,-22bp) {Year of First Commercialization (Median)};
\node[font=\titf] at (584bp,-22bp) {Year of First Commercialization};
\node[font=\titf] at (193bp,-217bp) {Granularity (Median)};
\node[font=\titf] at (584bp,-217bp) {Granularity};
\node[font=\titf] at (193bp,-412bp) {Material Use Intensity (Median)};
\node[font=\titf] at (584bp,-412bp) {Material Use Intensity};
\node[font=\titf] at (193bp,-607bp) {Technology Lifetime (Median)};
\node[font=\titf] at (584bp,-607bp) {Technology Lifetime};
\foreach \lab/\x/\y in {a/10/27,b/400/27,c/10/222,d/400/222,e/10/417,f/400/417,g/10/612,h/400/612}
  \node[font=\bfseries\fontsize{13}{14}\selectfont] at (\x bp,-\y bp) {\lab};
\foreach \r/\n/\x/\y in {0.18/98/331/76, 0.27/1419/721/76, 0.07/79/331/271, 0.07/1169/721/270, 0.18/87/331/466, 0.07/1275/721/465, 0.07/89/331/661, 0.06/1240/721/660}{
  \node[font=\rf, text=fitc, anchor=east, inner sep=0pt] at (\x bp,-\y bp) {R² = \r};
  \node[font=\rf, text=fitc, anchor=east, inner sep=0pt] at ({\x bp+3bp},{-\y bp-19bp}) {n =\ \ \n};
}
% ================= legend =================
\begin{axis}[legax, at={(11.7bp,-799.5bp)}]
\legitem{c01}{All Biofuels}\legitem{c02}{Aquaculture Production}\legitem{c03}{BCG Vaccine}\legitem{c04}{Beer Production}\legitem{c05}{Biogas}
\end{axis}
\begin{axis}[legax, at={(129.7bp,-799.5bp)}]
\legitem{c06}{Capture Fisheries}\legitem{c07}{Cellphones}\legitem{c08}{Crop Harvester}\legitem{c09}{DTP1 Vaccine}\legitem{c10}{DTP3 Vaccine}
\end{axis}
\begin{axis}[legax, at={(227.7bp,-799.5bp)}]
\legitem{c11}{Electricity}\legitem{c12}{Household internet Access}\legitem{c13}{MCV1 Vaccine}\legitem{c14}{Milk}\legitem{c15}{Motorcycles}
\end{axis}
\begin{axis}[legax, at={(361.7bp,-799.5bp)}]
\legitem{c16}{Natural Gas Pipelines}\legitem{c17}{Natural Gas Production}\legitem{c18}{Objects Launched into Space}\legitem{c19}{Oil Refining Capacity}\legitem{c20}{Onshore Wind Energy}
\end{axis}
\begin{axis}[legax, at={(504.7bp,-799.5bp)}]
\legitem{c21}{Passenger Cars}\legitem{c22}{POL3 Vaccine}\legitem{c23}{Postal Traffic}\legitem{c24}{Radio}\legitem{c25}{Railroad}
\end{axis}
\begin{axis}[legax, at={(594.7bp,-799.5bp)}]
\legitem{c26}{Renewable Power}\legitem{c27}{Solar Photovoltaic}\legitem{c28}{Solid Biofuels}\legitem{c29}{Sulphuric Acid}\legitem{c30}{Synthetic Fibers}
\end{axis}
\begin{axis}[legax, at={(694.7bp,-799.5bp)}]
\legitem{c31}{Telegraph Traffic}\legitem{c32}{Telephones}\legitem{c33}{Television}
\end{axis}
\begin{axis}[legax, at={(4.5bp,-886.5bp)}]
\legitem{cg}{}
\end{axis}
\foreach \w/\y/\t in {
 444/904.5/{Ammonia Synthesis, Cable TV,\ \ Cadmium Refining,\ \ Canals, Cane Sugar, Coal Production, Copper Mining, Copper Refining, Crude Oil,},
 448/925.4/{Dishwashers, Disk Brakes, Electric Bicycles, Ethanol, Flush Toilet, Flywheel Battery Storage,\ \ Freezer, Geothermal Energy, Gold, Ground},
 440/946.3/{Source Heat Pumps, HEPB3 Vaccine, HEPBB Vaccine, HIB3 Vaccine, Herbicide-Tolerant Corn, Herbicide-Tolerant Cotton, Herbicide-},
 436/967.2/{Tolerant Soybeans, High Speed Rail, Home Air Conditioning, Home Computers, Hydrochloric Acid, Hydroelectricity, Insect-Resistant},
 439/988.1/{Corn, Insect-Resistant Cotton,\ \ Iron Ore, Jet Aircraft, Laundry Dryers, Lead,\ \ Lead-Acid Battery Storage, Liquefied Natural Gas, MCV2},
 442/1009/{Vaccine, Marine Energy, Microcomputers, Microwaves, Nickel, Nitric Acid, Nitrogen Fertilizer, Nox Pollution Controls (Boilers),\ \ Nuclear},
 447/1029.9/{Energy, Nuclear Weapons, Offshore Wind Energy, Oil Pipelines, Oil Production, PCV3 Vaccine, Phosphate Fertilizer, Podcasting, Potash},
 429/1050.8/{Fertilizer, Power Steering, Primary Aluminum Production, Primary Bauxite Production, Public Roads, Pumped Hydro Storage, RCV1},
 437/1071.7/{Vaccine, ROTAC Vaccine, Raw Steel Production, Real-Time Gross Settlement Adoption, Refrigerators, Salt Production, Sensible Heat},
 449/1092.6/{Storage, Shale Production, Silver, Social Media Usage, Sodium-Based Battery Storage, Steamships, Stove, Washing Machines, Wet Flue},
 157/1113.5/{Gas Desulfurization Systems, YFV Vaccine, Zinc}}
 \node[anchor=base west, inner sep=0pt] at (20.7bp,-\y bp) {\resizebox{\w bp}{\height}{\grf\t}};
\end{tikzpicture}
\end{document}
